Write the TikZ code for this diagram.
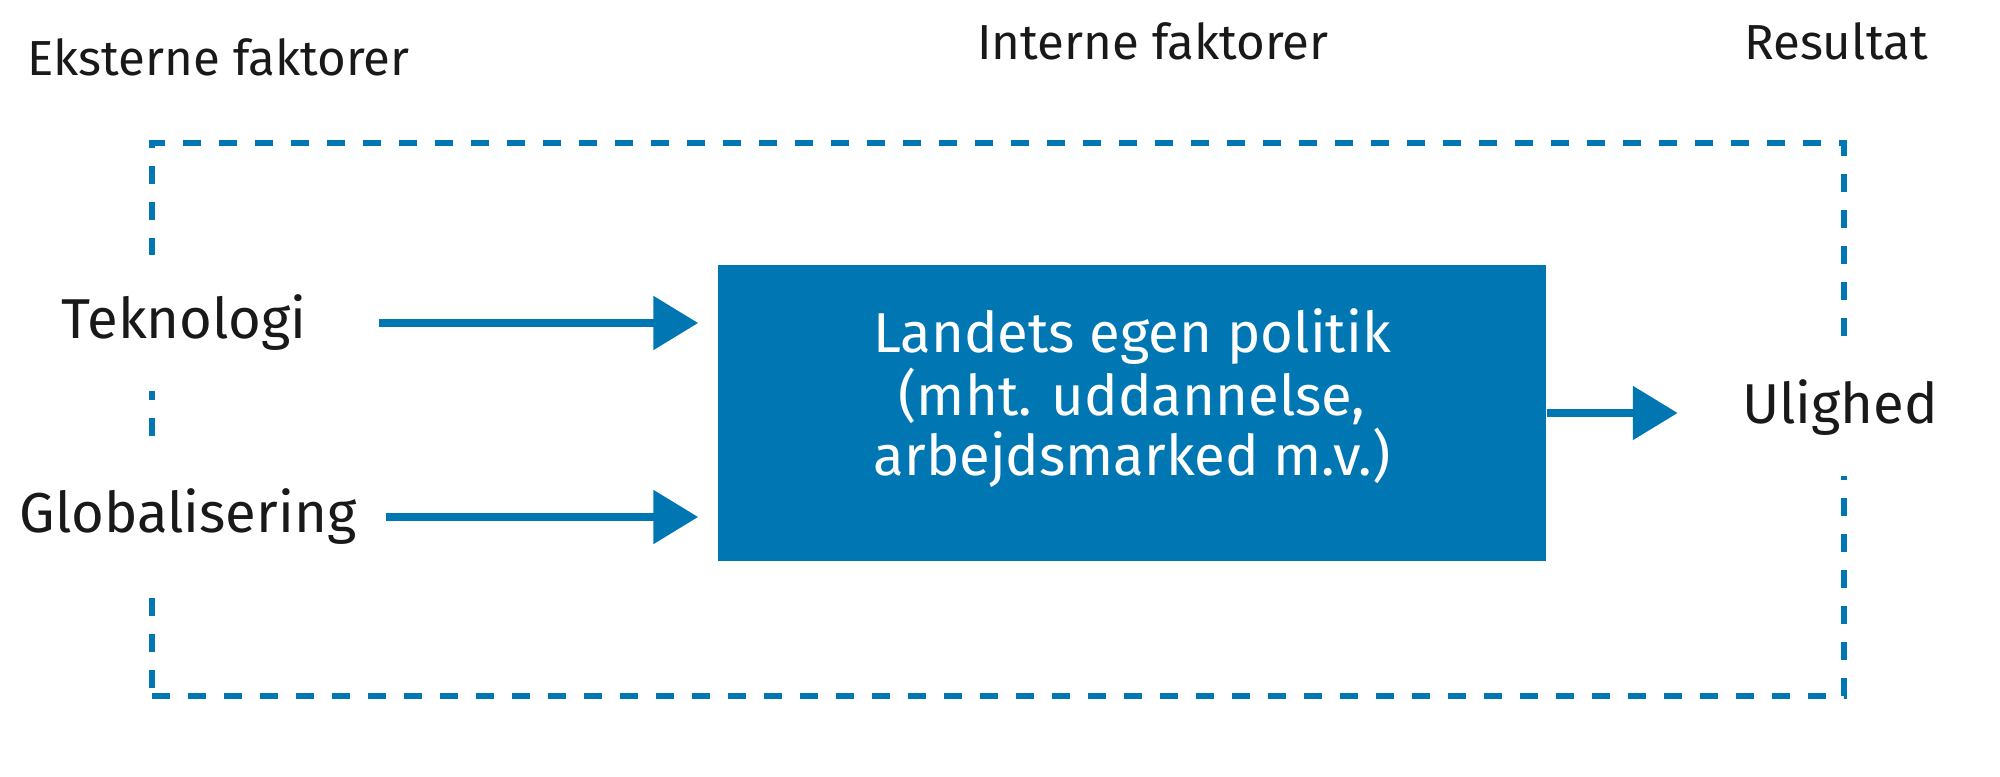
\documentclass[tikz,border=0pt]{standalone}
\usepackage{fontspec}
\setmainfont{Fira Sans}
\usetikzlibrary{arrows.meta}
\definecolor{polblue}{RGB}{0,119,179}
\begin{document}
\begin{tikzpicture}[
  head/.style={font=\fontsize{14}{17}\selectfont, text=black!90},
  factor/.style={font=\fontsize{16}{19}\selectfont, text=black!90, fill=white, inner xsep=1pt, minimum height=1.35cm},
  push/.style={draw=polblue, line width=2.5pt, -{Triangle[length=4.5mm,width=5.2mm]}}
]
\useasboundingbox (0,0) rectangle (20,7.76);
\node[draw=polblue, line width=1.7pt, dash pattern=on 1.8mm off 1.8mm, minimum width=16.92cm, minimum height=5.53cm, inner sep=0pt] (frame) at (9.98,3.565) {};

\node[head, anchor=west] (ekst) at (0.15,7.19) {Eksterne faktorer};
\node[head] (intern) at (11.53,7.35) {Interne faktorer};
\node[head] (res) at (18.36,7.35) {Resultat};

\node[factor] (tek) at (1.84,4.53) {Teknologi};
\node[factor] (glob) at (1.88,2.59) {Globalisering};
\node[factor] (ulig) at (18.40,3.68) {Ulighed};

\node[fill=polblue, minimum width=8.28cm, minimum height=2.96cm] (pol) at (11.32,3.63) {};
\node[text=white, font=\fontsize{16}{16}\selectfont, align=center] (poltext) at ([yshift=1.5mm]pol.center) {Landets egen politik\\(mht. uddannelse,\\arbejdsmarked m.v.)};

\draw[push, shorten >=1.9mm] ([xshift=6.8mm]tek.east) -- (tek.east -| pol.west);
\draw[push, shorten >=1.9mm] ([xshift=2.6mm]glob.east) -- (glob.east -| pol.west);
\draw[push] (pol.east) -- ([xshift=-6.0mm]ulig.west |- pol.east);
\end{tikzpicture}
\end{document}
